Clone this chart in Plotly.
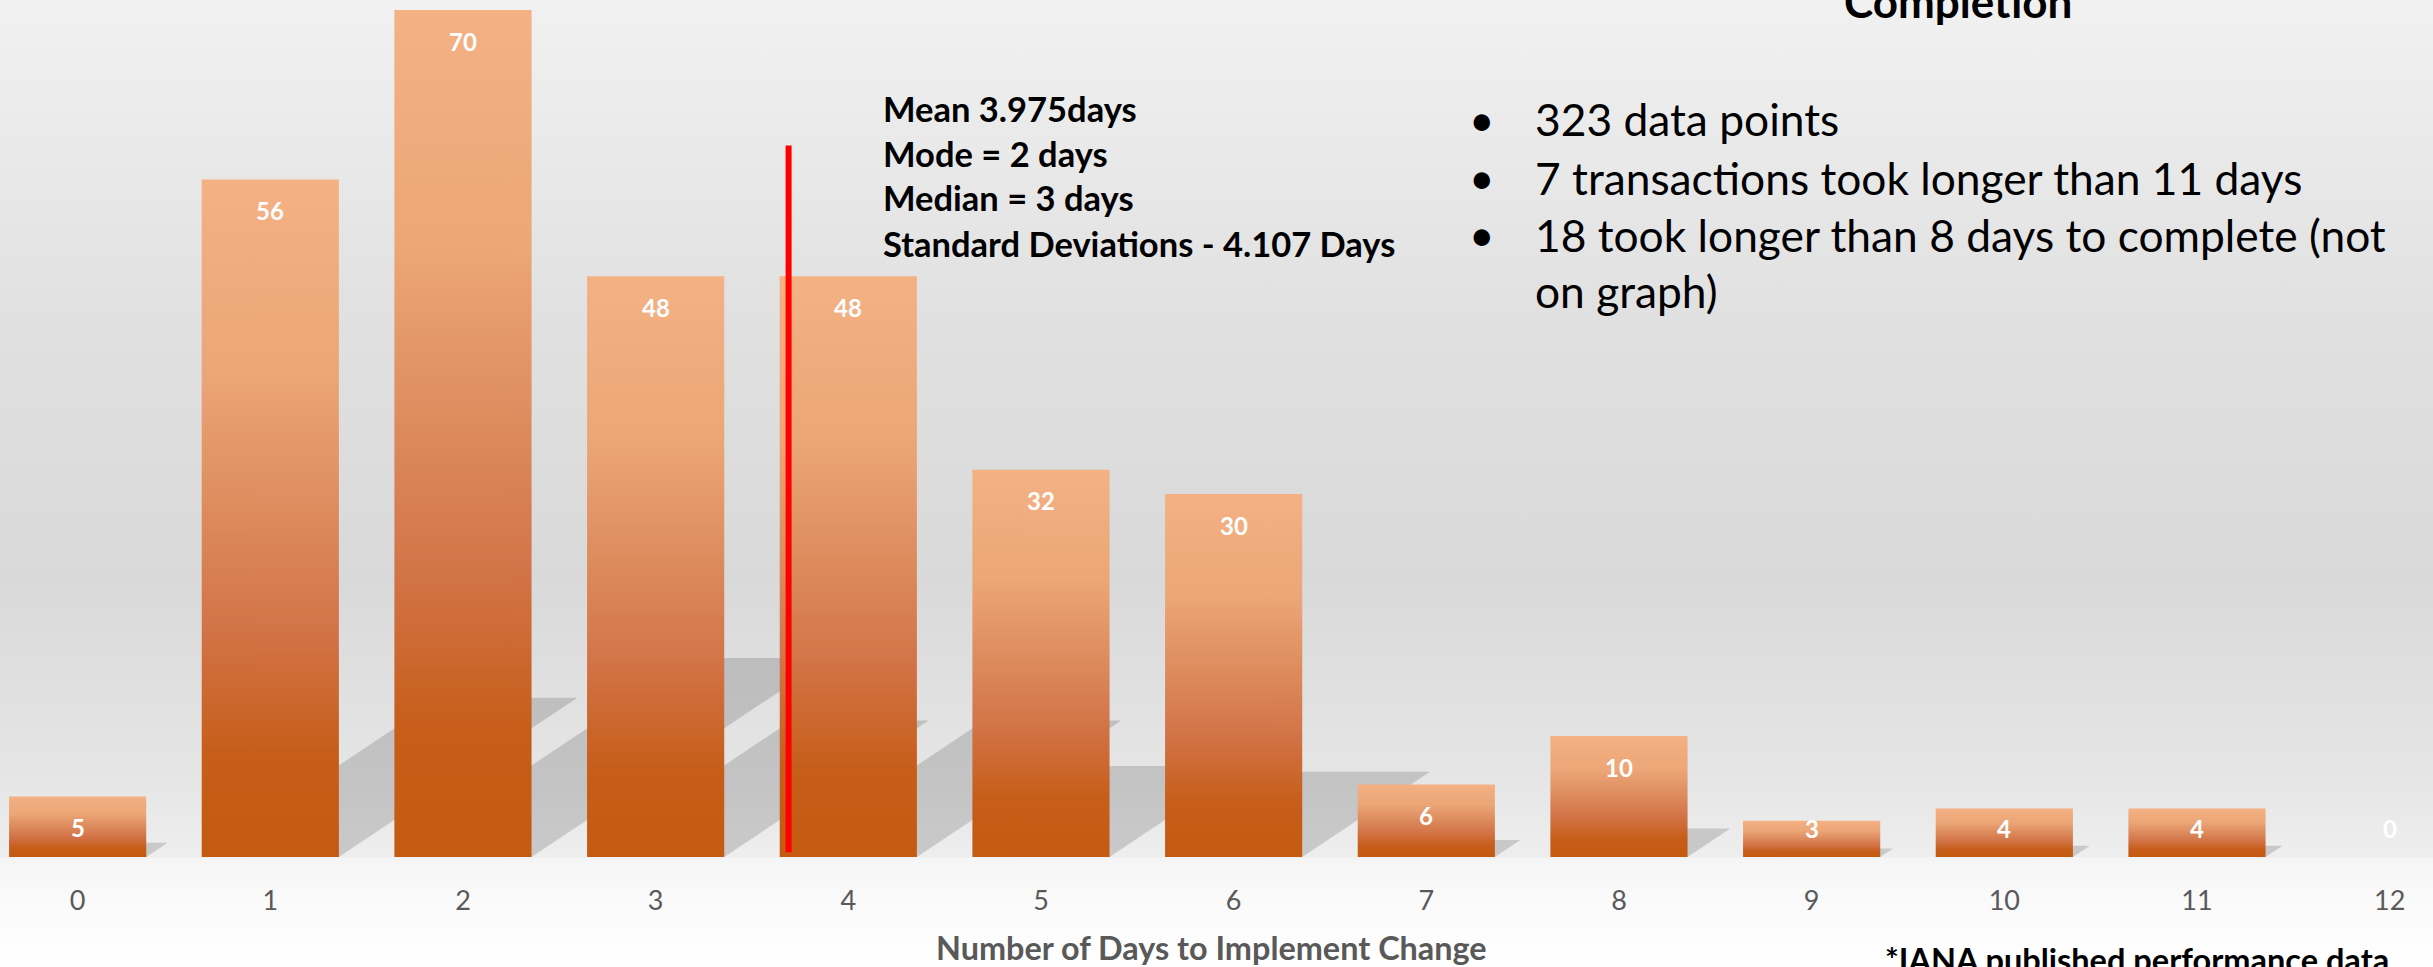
import plotly.graph_objects as go

# ---------------- data ----------------
days = list(range(13))
counts = [5, 56, 70, 48, 48, 32, 30, 6, 10, 3, 4, 4, 0]
tick_labels = [str(d) for d in days]

stats_lines = ["Mean 3.975days", "Mode = 2 days", "Median = 3 days",
               "Standard Deviations - 4.107 Days"]
bullet_lines = ["323 data points", "7 transactions took longer than 11 days",
                "18 took longer than 8 days to complete (not", "on graph)"]
bullet_flags = [True, True, True, False]
title_text = "Completion"
x_title = "Number of Days to Implement Change"
footnote = "*IANA published performance data."

mean_marker_x = 3.69
mean_marker_y = [0.4, 58.8]

# ---------------- layout constants ----------------
W, H = 2433, 967
X_RANGE = [-0.403, 12.225]
Y_RANGE = [-9.09, 70.83]
BASE_FRAC = (0 - Y_RANGE[0]) / (Y_RANGE[1] - Y_RANGE[0])
BAR_HALF = 0.356
SHADOW_DX = 0.0221
SHADOW_DY = 0.235
LABEL_FLOOR = 4.9
FONT = "Lato"

BAR_SCALE = [[0.0, "#C55A11"], [0.15, "#C65D19"], [0.33, "#D27346"],
             [0.50, "#DC8A5C"], [0.72, "#ECA678"], [1.0, "#F4B183"]]
BG_SCALE = [[0.0, "#ffffff"], [0.08, "#f9f9f9"], [0.1127, "#f5f5f5"],
            [0.1138, "#eeeeee"], [0.19, "#e6e6e6"], [0.40, "#d9d9d9"],
            [0.66, "#e0e0e0"], [0.88, "#ebebeb"], [1.0, "#f1f1f1"]]


def px_x(p):
    return p / W


def px_y(p):
    return 1 - p / H


fig = go.Figure()

# background wall + floor gradient
fig.add_trace(go.Scatter(
    x=[X_RANGE[0], X_RANGE[1], X_RANGE[1], X_RANGE[0], X_RANGE[0]],
    y=[Y_RANGE[0], Y_RANGE[0], Y_RANGE[1], Y_RANGE[1], Y_RANGE[0]],
    mode="lines", line=dict(width=0), fill="toself",
    fillgradient=dict(type="vertical", colorscale=BG_SCALE,
                      start=Y_RANGE[0], stop=Y_RANGE[1]),
    hoverinfo="skip", showlegend=False))

# shadows
for d, v in zip(days, counts):
    if v <= 0:
        continue
    xl, xr = d - BAR_HALF, d + BAR_HALF
    fig.add_trace(go.Scatter(
        x=[xl, xr, xr + v * SHADOW_DX, xl + v * SHADOW_DX, xl],
        y=[0, 0, v * SHADOW_DY, v * SHADOW_DY, 0],
        mode="lines", line=dict(width=0), fill="toself",
        fillcolor="rgba(0,0,0,0.15)", hoverinfo="skip", showlegend=False))

# bars (gradient filled)
for d, v in zip(days, counts):
    if v <= 0:
        continue
    xl, xr = d - BAR_HALF, d + BAR_HALF
    fig.add_trace(go.Scatter(
        x=[xl, xr, xr, xl, xl], y=[0, 0, v, v, 0],
        mode="lines", line=dict(width=0), fill="toself",
        fillgradient=dict(type="vertical", colorscale=BAR_SCALE, start=0, stop=v),
        name=str(d), showlegend=False, hovertemplate="%{text}<extra></extra>",
        text=[f"{d} days: {v}"] * 5))

# mean marker line
fig.add_trace(go.Scatter(
    x=[mean_marker_x, mean_marker_x], y=mean_marker_y, mode="lines",
    line=dict(color="#FF0000", width=6), hoverinfo="skip", showlegend=False))

annotations = []
# value labels
for d, v in zip(days, counts):
    annotations.append(dict(
        x=d, y=max(v, LABEL_FLOOR), xref="x", yref="y", yshift=-31,
        text=str(v), showarrow=False,
        font=dict(family=FONT, size=24, color="#ffffff", weight="bold")))

# stats block
stats_y = [108, 153, 197, 243]
for t, py in zip(stats_lines, stats_y):
    annotations.append(dict(
        x=px_x(881), y=px_y(py), xref="paper", yref="paper",
        xanchor="left", yanchor="middle", text=t, showarrow=False,
        font=dict(family=FONT, size=34.5, color="#000000", weight="bold")))

# bullet block
bullet_y = [119, 177, 234, 291]
for t, f, py in zip(bullet_lines, bullet_flags, bullet_y):
    if f:
        annotations.append(dict(
            x=px_x(1482), y=px_y(py), xref="paper", yref="paper",
            xanchor="center", yanchor="middle", text="•", showarrow=False,
            font=dict(family=FONT, size=44, color="#000000")))
    annotations.append(dict(
        x=px_x(1533), y=px_y(py), xref="paper", yref="paper",
        xanchor="left", yanchor="middle", text=t, showarrow=False,
        font=dict(family=FONT, size=44.3, color="#000000")))

# cut-off title
annotations.append(dict(
    x=px_x(1958), y=px_y(1), xref="paper", yref="paper",
    xanchor="center", yanchor="middle", text=title_text, showarrow=False,
    font=dict(family=FONT, size=44, color="#000000", weight="bold")))

# axis title
annotations.append(dict(
    x=px_x(1211), y=px_y(947), xref="paper", yref="paper",
    xanchor="center", yanchor="middle", text=x_title, showarrow=False,
    font=dict(family=FONT, size=32.4, color="#595959", weight="bold")))

# footnote
annotations.append(dict(
    x=px_x(2141), y=px_y(959), xref="paper", yref="paper",
    xanchor="center", yanchor="middle", text=footnote, showarrow=False,
    font=dict(family=FONT, size=32.5, color="#000000", weight="bold")))

fig.update_layout(
    width=W, height=H, margin=dict(l=0, r=0, t=0, b=0, pad=0),
    paper_bgcolor="#ffffff", plot_bgcolor="#ffffff",
    showlegend=False, annotations=annotations,
    xaxis=dict(range=X_RANGE, domain=[0, 1], anchor="free", position=BASE_FRAC,
               tickmode="array", tickvals=days, ticktext=tick_labels,
               showgrid=False, zeroline=False, showline=False,
               ticks="outside", ticklen=20, tickcolor="rgba(0,0,0,0)",
               tickfont=dict(family=FONT, size=27, color="#595959"),
               fixedrange=True),
    yaxis=dict(range=Y_RANGE, domain=[0, 1], visible=False, fixedrange=True),
)

fig.write_html("out.html", config={"displayModeBar": False},
               post_script="document.body.style.margin='0';document.body.style.overflow='hidden';")
